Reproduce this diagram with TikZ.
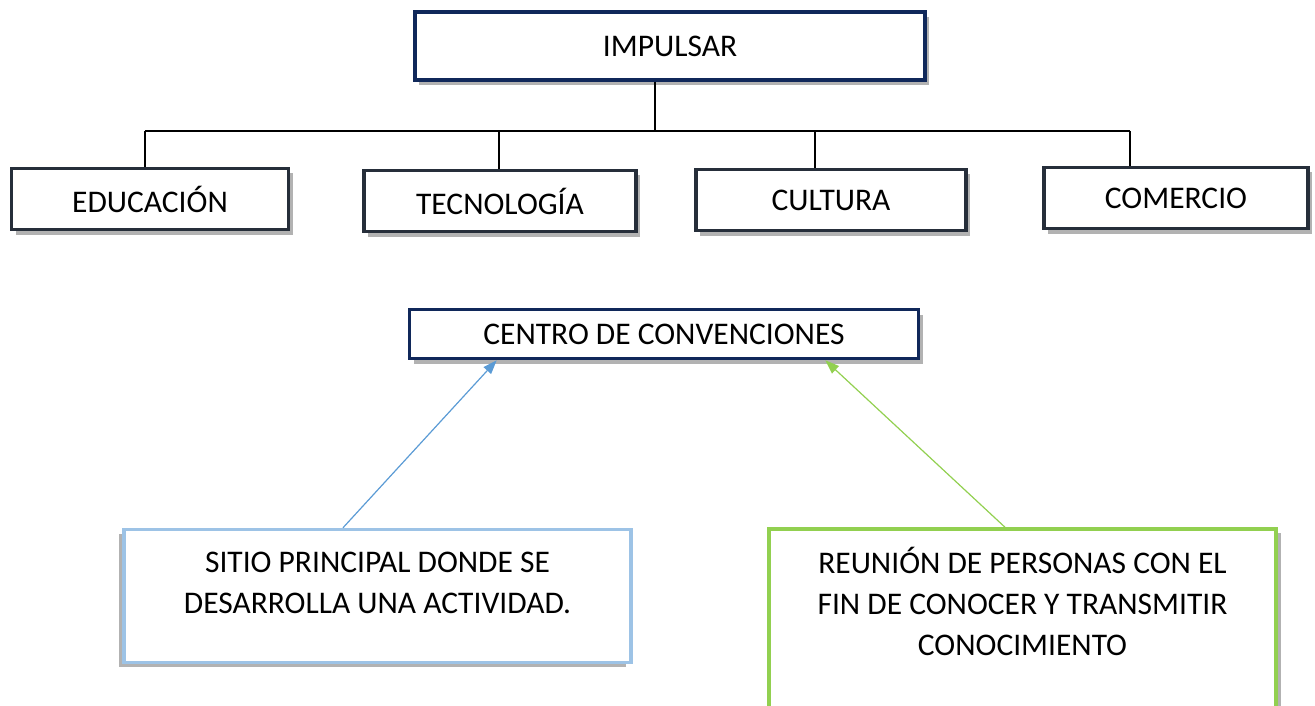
\documentclass[tikz,border=0pt]{standalone}
\usepackage{fontspec}
\setmainfont{Carlito}
\usepackage{tikz}
\usetikzlibrary{arrows.meta}
\usetikzlibrary{shadows}
\usepackage{xcolor}
\definecolor{deepnavy}{HTML}{10285A}
\definecolor{slateline}{HTML}{262E3A}
\definecolor{paleblue}{HTML}{9DC3E6}
\definecolor{midblue}{HTML}{5B9BD5}
\definecolor{leafgreen}{HTML}{92D050}

\begin{document}
\begin{tikzpicture}[
        x=1pt, y=-1pt,
        box/.style={rectangle, fill=white, inner sep=0pt, align=center,
          font=\fontsize{31.5}{41}\selectfont},
        topbox/.style={box, draw=deepnavy, line width=3.5pt,
          drop shadow={shadow xshift=4pt, shadow yshift=-5pt, fill=black, opacity=0.3}},
        areabox/.style={box, draw=slateline, line width=3.5pt,
          minimum width=270pt, minimum height=61pt,
          drop shadow={shadow xshift=4pt, shadow yshift=-5pt, fill=black, opacity=0.3}},
        notebox/.style={box, line width=3.5pt, minimum width=507pt,
          text depth=25pt},
        tree/.style={line width=1.3pt, draw=black},
        blueline/.style={line width=1.2pt, draw=midblue,
          -{Triangle[length=14pt, width=10pt, fill=midblue]}},
        greenline/.style={line width=1.2pt, draw=leafgreen,
          -{Triangle[length=14pt, width=10pt, fill=leafgreen]}},
      ]
      \useasboundingbox (0,0) rectangle (1315,706);

      % === Top level ===
      \node[topbox, minimum width=510pt, minimum height=68pt] (impulsar) at (670,46) {IMPULSAR};

      % === Areas ===
      \node[areabox, minimum width=277pt] (educ) at (150,199) {EDUCACIÓN};
      \node[areabox, minimum width=272pt] (tecno) at (500,201) {TECNOLOGÍA};
      \node[areabox] (cultura) at (831,200) {CULTURA};
      \node[areabox, minimum width=264pt] (comercio) at (1176,198) {COMERCIO};

      % Bus line
      \coordinate (jTop) at (655,131);
      \coordinate (jEdu) at (145,131);
      \coordinate (jTec) at (499,131);
      \coordinate (jCul) at (815,131);
      \coordinate (jCom) at (1130,131);
      \draw[tree] (jTop |- impulsar.south) -- (jTop);
      \draw[tree] (jEdu) -- (jCom);
      \draw[tree] (jEdu) -- (jEdu |- educ.north);
      \draw[tree] (jTec) -- (jTec |- tecno.north);
      \draw[tree] (jCul) -- (jCul |- cultura.north);
      \draw[tree] (jCom) -- (jCom |- comercio.north);

      % === Centre ===
      \node[topbox, minimum width=509pt, minimum height=49pt] (centro) at (664,334) {CENTRO DE CONVENCIONES};

      % === Notes ===
      \node[notebox, draw=paleblue, minimum height=133pt, text height=59pt,
        drop shadow={shadow xshift=-5pt, shadow yshift=-4pt, fill=black, opacity=0.3}]
        (sitio) at (377.5,596) {SITIO PRINCIPAL DONDE SE\\DESARROLLA UNA ACTIVIDAD.};
      \node[notebox, draw=leafgreen, minimum height=180pt, text height=97pt,
        drop shadow={shadow xshift=5pt, shadow yshift=-4pt, fill=black, opacity=0.3}]
        (reunion) at (1022.5,619) {REUNIÓN DE PERSONAS CON EL\\FIN DE CONOCER Y TRANSMITIR\\CONOCIMIENTO};

      \draw[blueline] ([xshift=-34.5pt]sitio.north) -- ([xshift=89pt]centro.south west);
      \draw[greenline] ([xshift=-17.5pt]reunion.north) -- ([xshift=-95pt]centro.south east);

      \end{tikzpicture}
\end{document}
